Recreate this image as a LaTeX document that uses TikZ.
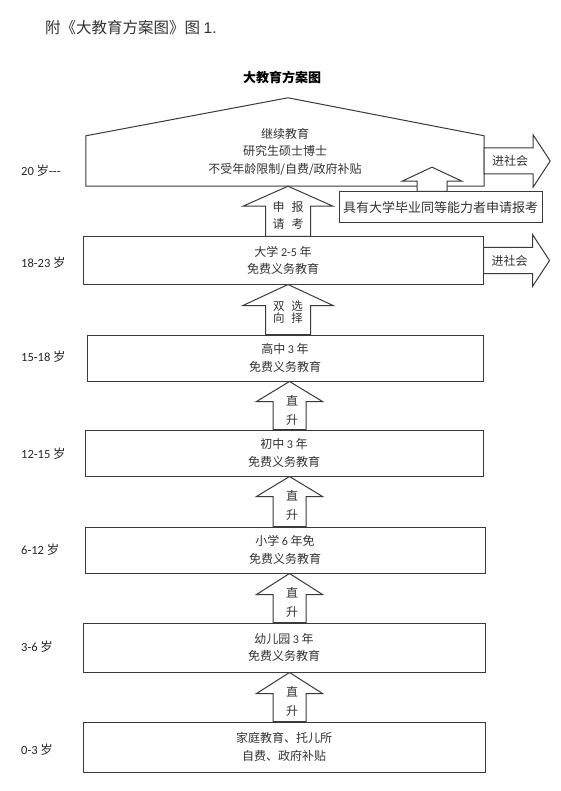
\documentclass[tikz,border=0pt]{standalone}
\usepackage{fontspec}
\setmainfont{Noto Sans CJK SC}
\newfontfamily\lat{Carlito}
\newfontfamily\ari{Liberation Sans}
\usetikzlibrary{calc}
\definecolor{ln}{HTML}{3A3A3A}
\definecolor{tx}{HTML}{333333}
% up block arrow: #1 prefix, #2 lower node, #3 upper node, #4 x, #5 shaft half, #6 head half, #7 head length, #8 tip lift
\newcommand\upblk[8]{%
  \coordinate (#1b) at (#4,0 |- #2.north);
  \coordinate (#1t) at ($(#4,0 |- #3.south)+(0,-#8)$);
  \draw[blk] ($(#1b)+(-#5,0)$) -- ($(#1t)+(-#5,#7)$) -- ($(#1t)+(-#6,#7)$) -- (#1t)
     -- ($(#1t)+(#6,#7)$) -- ($(#1t)+(#5,#7)$) -- ($(#1b)+(#5,0)$) -- cycle;}
% right block arrow: #1 prefix, #2 node
\newcommand\rtblk[2]{%
  \coordinate (#1s) at (#2.east);
  \draw[blk] ($(#1s)+(0,-13)$) -- ($(#1s)+(49,-13)$) -- ($(#1s)+(49,-26)$) -- ($(#1s)+(66,0)$)
     -- ($(#1s)+(49,26)$) -- ($(#1s)+(49,13)$) -- ($(#1s)+(0,13)$) -- cycle;}
\begin{document}
\begin{tikzpicture}[x=1pt,y=-1pt,
  box/.style={draw=ln,line width=1pt,fill=white,inner sep=0pt,align=center,text=tx,
              font=\fontsize{12}{17.5}\selectfont},
  blk/.style={draw=ln,line width=1pt,fill=white,line join=miter},
  lab/.style={text=tx,font=\fontsize{12}{17}\selectfont,inner sep=0pt,align=center},
  age/.style={anchor=west,text=black!85,font=\fontsize{12.5}{14}\selectfont,inner sep=0pt}]
\useasboundingbox[fill=white] (0,0) rectangle (560,791);

% header and title
\node[anchor=west,inner sep=0pt,text=tx,font=\fontsize{15.5}{18}\selectfont] (hdr) at (45,28)
  {附《大教育方案图》图 {\ari 1.}};
\node[inner sep=0pt,text=black,font=\bfseries\fontsize{13}{15}\selectfont] (title) at (282,77) {大教育方案图};

% top (pentagon)
\node[inner sep=0pt,minimum width=398pt,minimum height=50pt] (top) at (285,161) {};
\draw[blk] (top.north west) -- ($(top.north)+(3,-38)$) -- (top.north east) -- (top.south east)
  -- (top.south west) -- cycle;
\node[lab,font=\fontsize{12}{17.5}\selectfont] (toptext) at (285,151.5)
  {继续教育\\研究生硕士博士\\不受年龄限制/自费/政府补贴};

% boxes
\node[box,minimum width=400pt,minimum height=47pt] (univ) at (283,260.5) {大学 {\lat 2-5} 年\\免费义务教育};
\node[box,minimum width=396pt,minimum height=46pt] (hs) at (285,358) {高中 {\lat 3} 年\\免费义务教育};
\node[box,minimum width=398pt,minimum height=46pt] (jhs) at (284,453) {初中 {\lat 3} 年\\免费义务教育};
\node[box,minimum width=400pt,minimum height=46pt] (prim) at (285,550) {小学 {\lat 6} 年免\\免费义务教育};
\node[box,minimum width=402pt,minimum height=49pt] (kg) at (284,647.5) {幼儿园 {\lat 3} 年\\免费义务教育};
\node[box,minimum width=402pt,minimum height=50pt] (base) at (284,747) {家庭教育、托儿所\\自费、政府补贴};
\node[box,minimum width=203pt,minimum height=31pt,font=\fontsize{13}{15}\selectfont] (eq) at (440.5,207.5)
  {具有大学毕业同等能力者申请报考};

% up arrows
\upblk{a1}{univ}{top}{288}{22.5}{45}{20}{0}
\upblk{a2}{hs}{univ}{288}{22.5}{45}{21}{0}
\upblk{a3}{jhs}{hs}{289.5}{16.5}{33}{20}{0}
\upblk{a4}{prim}{jhs}{289.5}{16.5}{33}{20}{0}
\upblk{a5}{kg}{prim}{289.5}{16.5}{33}{21}{0}
\upblk{a6}{base}{kg}{289.5}{16.5}{33}{21}{0}
\upblk{a7}{eq}{top}{432}{15}{30}{14}{19}

% right arrows
\rtblk{r1}{top}
\rtblk{r2}{univ}
\node[lab] (exit1) at ($(top.east)+(26,0)$) {进社会};
\node[lab] (exit2) at ($(univ.east)+(26,0)$) {进社会};

% arrow labels
\node[lab] (l1) at ($(288,0 |- top.south)+(0,29.5)$) {申\hspace{7pt}报\\请\hspace{7pt}考};
\node[lab,font=\fontsize{11.5}{11.5}\selectfont] (l2) at ($(288,0 |- univ.south)+(0,27.5)$) {双\hspace{7pt}选\\向\hspace{7pt}择};
\node[lab,font=\fontsize{12}{19}\selectfont] (l3) at ($(289.5,0 |- hs.south)+(2.5,28.5)$) {直\\升};
\node[lab,font=\fontsize{12}{19}\selectfont] (l4) at ($(289.5,0 |- jhs.south)+(2.5,28.5)$) {直\\升};
\node[lab,font=\fontsize{12}{19}\selectfont] (l5) at ($(289.5,0 |- prim.south)+(2.5,28.5)$) {直\\升};
\node[lab,font=\fontsize{12}{19}\selectfont] (l6) at ($(289.5,0 |- kg.south)+(2.5,28.5)$) {直\\升};

% ages
\node[age] (g1) at (21,171) {{\lat 20} 岁{\lat ---}};
\node[age] (g2) at (21,263) {{\lat 18-23} 岁};
\node[age] (g3) at (21,357) {{\lat 15-18} 岁};
\node[age] (g4) at (21,454) {{\lat 12-15} 岁};
\node[age] (g5) at (21,550) {{\lat 6-12} 岁};
\node[age] (g6) at (21,647) {{\lat 3-6} 岁};
\node[age] (g7) at (21,750) {{\lat 0-3} 岁};
\end{tikzpicture}
\end{document}
